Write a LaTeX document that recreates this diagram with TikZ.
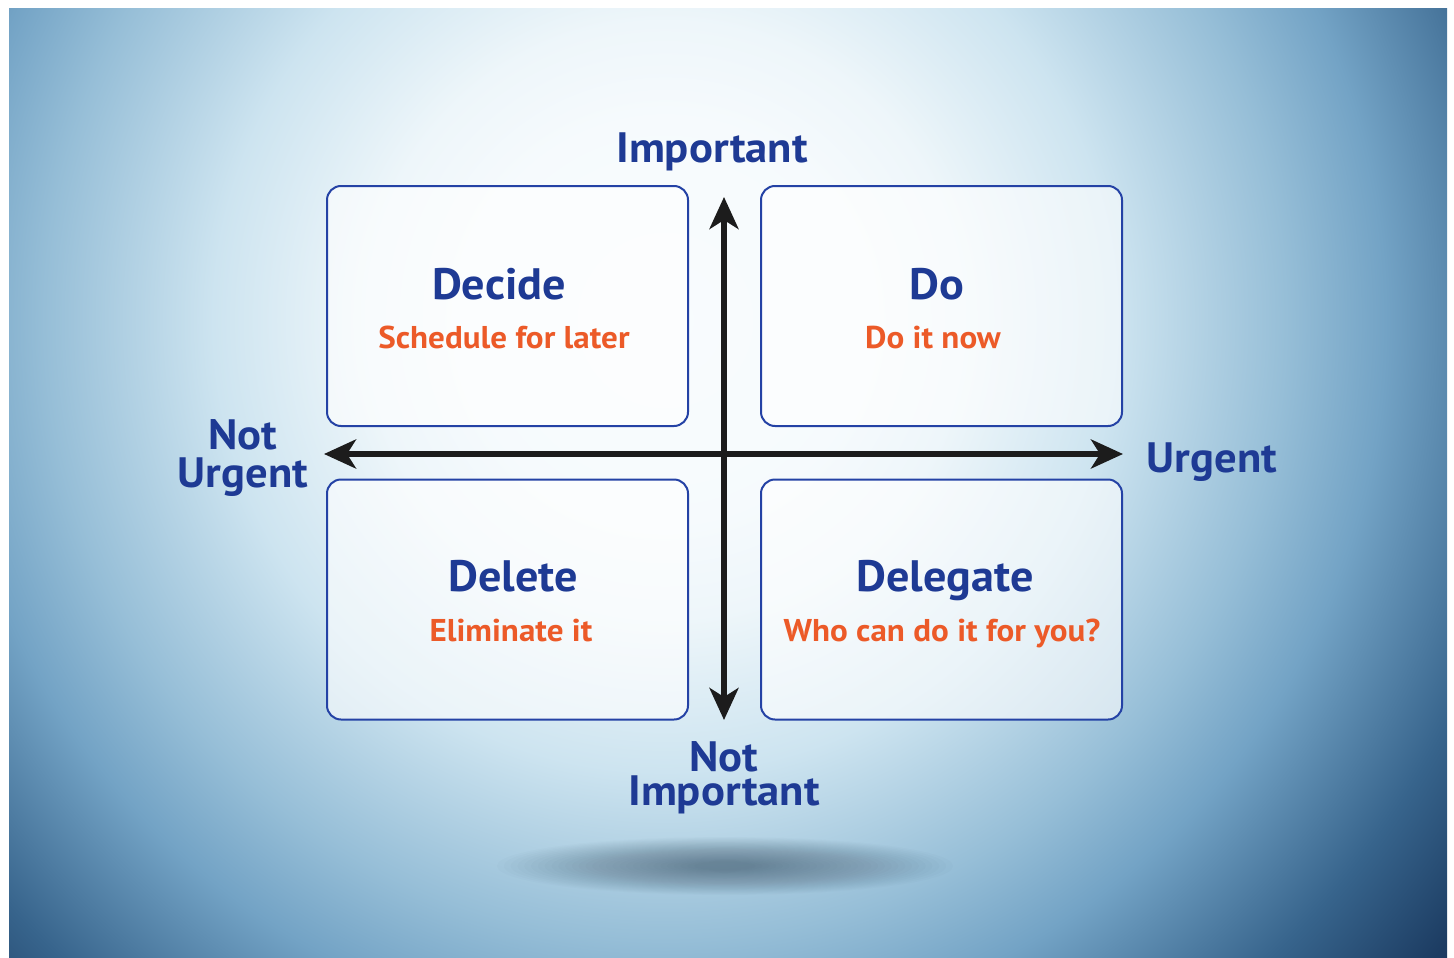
\documentclass[tikz,border=0pt]{standalone}
\usepackage{fontspec}
\setmainfont{PT Sans}[FakeStretch=1.05]
\usetikzlibrary{arrows.meta}
\definecolor{tblue}{RGB}{30,58,148}
\definecolor{torange}{RGB}{236,90,40}
\definecolor{boxblue}{RGB}{36,66,165}
\definecolor{axisc}{RGB}{28,28,28}
\definecolor{shadowc}{RGB}{40,60,80}
\pgfdeclareradialshading{bgshade}{\pgfpoint{0bp}{0bp}}{%
 rgb(0bp)=(0.975,0.987,0.995);
 rgb(6bp)=(0.965,0.982,0.992);
 rgb(9bp)=(0.933,0.965,0.980);
 rgb(13.6bp)=(0.804,0.894,0.941);
 rgb(18.7bp)=(0.588,0.745,0.843);
 rgb(21.7bp)=(0.451,0.639,0.773);
 rgb(26.5bp)=(0.216,0.392,0.549);
 rgb(30.1bp)=(0.110,0.235,0.384);
 rgb(33.1bp)=(0.086,0.196,0.345);
 rgb(50bp)=(0.086,0.196,0.345)}
\tikzset{
  qbox/.style={draw=boxblue, line width=2pt, fill=white, fill opacity=0.6,
    rounded corners=14pt, minimum width=361pt, minimum height=240pt, inner sep=0pt},
  ttl/.style={text=tblue, font=\fontsize{44}{48}\selectfont\bfseries, anchor=base, inner sep=0pt},
  sub/.style={text=torange, font=\fontsize{31.5}{36}\selectfont\bfseries, anchor=base, inner sep=0pt},
  axlbl/.style={text=tblue, font=\fontsize{42.5}{46}\selectfont\bfseries, anchor=base, inner sep=0pt},
  axis/.style={draw=axisc, line width=5.5pt,
    arrows={Stealth[length=32pt,width=29pt,inset=9pt]-Stealth[length=32pt,width=29pt,inset=9pt]}}
}
\begin{document}
\begin{tikzpicture}[x=1pt,y=-1pt]
\useasboundingbox (0,0) rectangle (1454,958);
\fill[white] (0,0) rectangle (1454,958);
\begin{scope}
  \clip (9,9) rectangle (1447,958);
  \shade[shading=bgshade, overlay] (-165,-510) rectangle (1495,1150);
\end{scope}
% shadow
\foreach \i in {0,...,29}{
  \fill[shadowc, opacity=0.021] (725,866) ellipse ({228-6.8*\i} and {29-0.85*\i});
}
% boxes
\node[qbox] (tl) at (507.5,306) {};
\node[qbox] (tr) at (941.5,306) {};
\node[qbox] (bl) at (507.5,599.5) {};
\node[qbox] (br) at (941.5,599.5) {};
% box texts
\node[ttl] (tlt) at (499,299) {Decide};
\node[sub] (tls) at (504,348) {Schedule for later};
\node[ttl] (trt) at (937,299) {Do};
\node[sub] (trs) at (933,348) {Do it now};
\node[ttl] (blt) at (513,591) {Delete};
\node[sub] (bls) at (511,641) {Eliminate it};
\node[ttl] (brt) at (945,591) {Delegate};
\node[sub] (brs) at (942,641) {Who can do it for you?};
% axes
\coordinate (top) at (724,197);
\coordinate (bot) at (724,720);
\coordinate (lft) at (324,454);
\coordinate (rgt) at (1123,454);
\draw[axis] (bot) -- (top);
\draw[axis] (lft) -- (rgt);
% axis labels
\node[axlbl] (imp) at (712,162) {Important};
\node[axlbl, anchor=north, align=center, font=\fontsize{42.5}{38}\selectfont\bfseries]
  (nu) at (243,419.25) {Not\\Urgent};
\node[axlbl] (urg) at (1212,472) {Urgent};
\node[axlbl, anchor=north, align=center, font=\fontsize{42.5}{34}\selectfont\bfseries]
  (ni) at (724,741.25) {Not\\Important};
\end{tikzpicture}
\end{document}
